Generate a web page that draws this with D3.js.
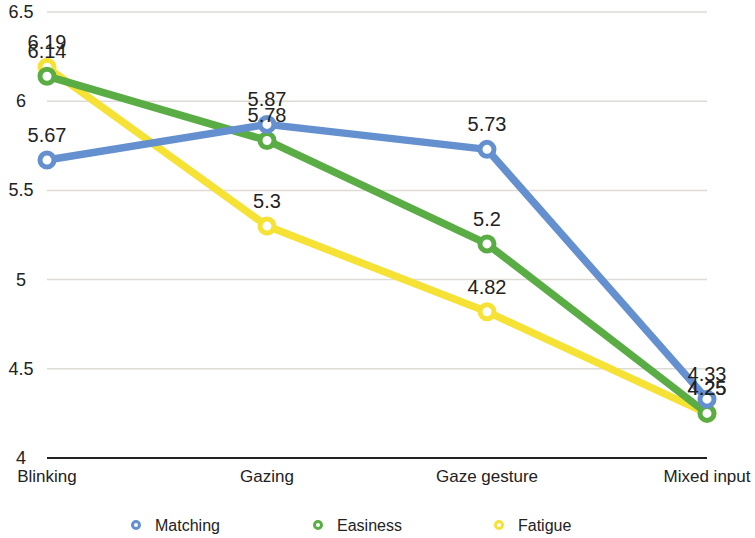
<!DOCTYPE html>
<html>
<head>
<meta charset="utf-8">
<script src="https://cdn.jsdelivr.net/npm/d3@7"></script>
<style>
  body { margin: 0; background: #fff; }
  text { font-family: "Liberation Sans", Arial, sans-serif; fill: #222; }
</style>
</head>
<body>
<div id="chart"></div>
<script>
// chart values
var categories = ["Blinking", "Gazing", "Gaze gesture", "Mixed input"];
var matching = [5.67, 5.87, 5.73, 4.33];
var easiness = [6.14, 5.78, 5.2, 4.25];
var fatigue = [6.19, 5.3, 4.82, 4.25];
var yTicks = [4, 4.5, 5, 5.5, 6, 6.5];

var series = [
    { name: "Matching", values: matching, color: "#6590cf" },
    { name: "Easiness", values: easiness, color: "#5aad45" },
    { name: "Fatigue", values: fatigue, color: "#f6e235" }
];

var width = 755, height = 538;

var svg = d3.select("#chart")
    .append("svg")
    .attr("width", width)
    .attr("height", height);

var x = d3.scalePoint()
    .domain(categories)
    .range([47, 707]);

var y = d3.scaleLinear()
    .domain([4, 6.5])
    .range([458, 12]);

// gridlines
svg.selectAll("line.grid")
    .data(yTicks.filter(function(d) { return d > 4; }))
    .enter()
    .append("line")
    .attr("class", "grid")
    .attr("x1", 47)
    .attr("x2", 707)
    .attr("y1", function(d) { return y(d); })
    .attr("y2", function(d) { return y(d); })
    .style("stroke", "#dedbd6")
    .style("stroke-width", 1.5);

// y tick labels
svg.selectAll("text.ytick")
    .data(yTicks)
    .enter()
    .append("text")
    .attr("class", "ytick")
    .attr("x", 21)
    .attr("y", function(d) { return y(d) + 6; })
    .attr("text-anchor", "middle")
    .style("font-size", "18px")
    .text(function(d) { return d; });

// baseline axis
svg.append("line")
    .attr("x1", 47)
    .attr("x2", 707)
    .attr("y1", y(4))
    .attr("y2", y(4))
    .style("stroke", "#222")
    .style("stroke-width", 2);

// category labels
svg.selectAll("text.xtick")
    .data(categories)
    .enter()
    .append("text")
    .attr("class", "xtick")
    .attr("x", function(d) { return x(d); })
    .attr("y", 482)
    .attr("text-anchor", "middle")
    .style("font-size", "17px")
    .text(function(d) { return d; });

var line = d3.line()
    .x(function(d, i) { return x(categories[i]); })
    .y(function(d) { return y(d); });

// draw last series first so Matching sits on top
var drawOrder = series.slice().reverse();

drawOrder.forEach(function(s) {
    var g = svg.append("g");
    g.append("path")
        .datum(s.values)
        .attr("d", line)
        .style("fill", "none")
        .style("stroke", s.color)
        .style("stroke-width", 7.5)
        .style("stroke-linejoin", "round");
    g.selectAll("circle")
        .data(s.values)
        .enter()
        .append("circle")
        .attr("cx", function(d, i) { return x(categories[i]); })
        .attr("cy", function(d) { return y(d); })
        .attr("r", 7)
        .style("fill", "#fff")
        .style("stroke", s.color)
        .style("stroke-width", 5);
});

// value labels
drawOrder.forEach(function(s) {
    svg.append("g").selectAll("text")
        .data(s.values)
        .enter()
        .append("text")
        .attr("x", function(d, i) { return x(categories[i]); })
        .attr("y", function(d) { return y(d) - 18; })
        .attr("text-anchor", "middle")
        .style("font-size", "20px")
        .text(function(d) { return d; });
});

// legend
var legendX = [136, 318, 499];
var legend = svg.selectAll("g.legend")
    .data(series)
    .enter()
    .append("g")
    .attr("class", "legend")
    .attr("transform", function(d, i) { return "translate(" + legendX[i] + ",525)"; });

legend.append("circle")
    .attr("r", 3.5)
    .style("fill", "#fff")
    .style("stroke", function(d) { return d.color; })
    .style("stroke-width", 3);

legend.append("text")
    .attr("x", 19)
    .attr("y", 6)
    .style("font-size", "16px")
    .text(function(d) { return d.name; });
</script>
</body>
</html>
